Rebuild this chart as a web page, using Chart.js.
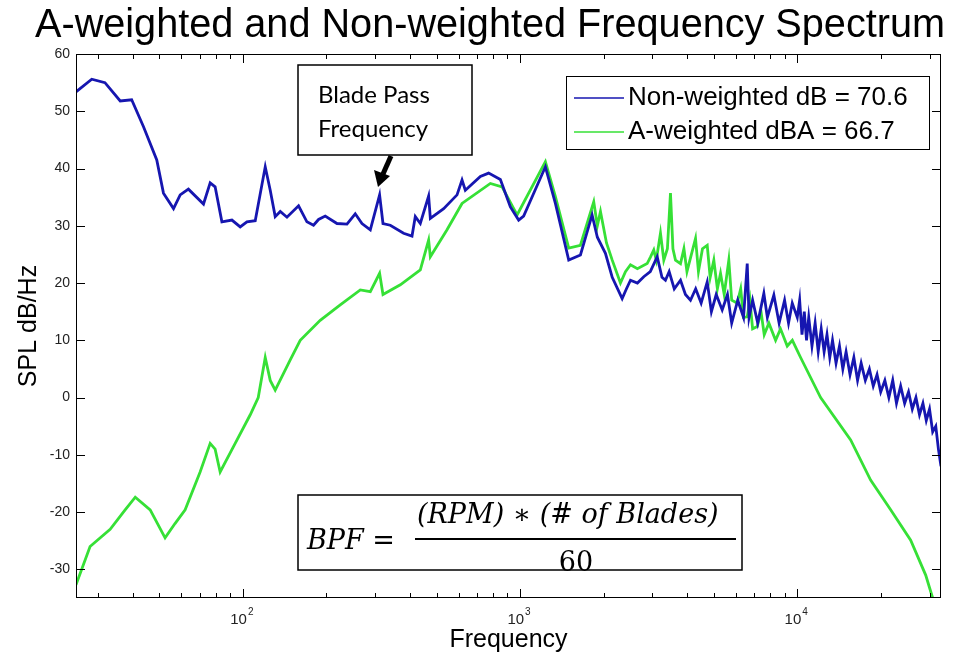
<!DOCTYPE html>
<html>
<head>
<meta charset="utf-8">
<script src="https://cdn.jsdelivr.net/npm/chart.js@4.4.0/dist/chart.umd.min.js"></script>
<style>
  html, body { margin: 0; padding: 0; background: #fff; }
</style>
</head>
<body>
<canvas id="spectrum" width="961" height="659"></canvas>
<script>
// values (Hz / dB)
const blueFreq = [25, 28.5, 31.8, 36.1, 39.7, 43.8, 48.9, 51.7, 56.2, 59.4, 63.6, 72.1, 76.2, 79.4, 84, 91.3, 97.8,
  103.4, 110.8, 120.4, 125.5, 130.8, 136.4, 144.2, 158.8, 170.2, 179.8, 187.5, 198.2, 218.5, 237.4, 254.3, 268.9,
  288.2, 311.3, 320.2, 340.2, 379.9, 407.5, 418.8, 436.6, 467.8, 474.5, 530.1, 592.3, 617.4, 634.6, 719.1, 770.1,
  849, 922.6, 988.3, 1030, 1234, 1341, 1498, 1651,
  1819, 1900, 2032, 2150, 2335, 2420, 2502, 2650, 2794, 2950, 3124, 3250, 3345, 3450, 3600, 3791, 3950, 4119,
  4300, 4500, 4733, 4900, 5100, 5360, 5600, 5800, 6100, 6400, 6599, 6700, 6900, 7200, 7576, 7800, 8232, 8600,
  9000, 9300, 9592,
  10000, 10200, 10400, 10600, 10800, 11000, 11300, 11600, 11900, 12200, 12500, 12800, 13100, 13400, 13800,
  14200, 14600, 15000, 15500, 16000, 16500, 17000, 17600, 18200, 18800, 19400, 20000, 20700, 21400, 22100,
  22800, 23600, 24400, 25200, 26000, 26800, 27600, 28400, 29200, 30000, 30800, 31600, 32300, 33000];
const blueDb = [53.4, 55.6, 55.0, 51.8, 52.0, 47.3, 41.5, 35.7, 33.0, 35.4, 36.4, 33.8, 37.5, 36.8, 30.7, 31.0, 29.8,
  30.7, 30.9, 40.3, 36.2, 31.6, 32.5, 31.5, 33.5, 30.7, 30.1, 31.1, 31.7, 30.4, 30.3, 32.1, 30.4,
  29.3, 35.4, 30.4, 30.1, 28.7, 28.2, 31.6, 30.4, 35.2, 31.3, 33.0, 35.4, 38.0, 36.2, 38.6, 39.2,
  38.1, 33.3, 31.0, 31.7, 40.3, 33.9, 24.0, 24.9,
  31.9, 28, 25.2, 21, 17.3, 19, 20.5, 20, 21.1, 22, 24.6, 21, 20.5, 22, 19, 20.5, 18, 17,
  19, 16.5, 20.2, 15, 18, 15.3, 18, 13, 17, 14, 23.4, 14, 17, 13, 18.2, 14, 17.9, 13,
  17, 13, 16.5,
  14, 17, 11, 15, 10, 14, 9, 13, 8, 12, 8, 11, 7, 10, 6,
  9, 5, 8, 4, 7, 3, 6, 3, 5, 2, 4, 1, 3, 0, 3,
  -1, 2, -1, 1, -2, 0, -3, -1, -4, -2, -6, -5, -9, -12];

const greenFreq = [25, 28.1, 33.2, 37.6, 40.9, 46.3, 52.4, 56.9, 61.9, 70.1, 76.2, 79.4, 82.8, 93.8, 106.3, 113.6,
  120.4, 125.5, 130.8, 148.2, 161, 190.1, 224.5, 265.2, 288.2, 311.3, 320.2, 369.8, 436.6, 467.8, 474.5, 545.1,
  617.4, 781.3, 861, 975.5, 1234, 1341, 1498, 1651,
  1844, 1900, 1950, 2050, 2150, 2302, 2400, 2502, 2650, 2874, 2950, 3036, 3100, 3210, 3300, 3400, 3488, 3560,
  3636, 3791, 3900, 4000, 4150, 4295, 4400, 4550, 4733, 4850, 5000, 5150, 5286, 5450, 5663, 5800, 6073, 6250,
  6400, 6599, 6750, 6900, 7171, 7400, 7600, 7900, 8352, 8700, 9200, 9600,
  10280, 12140, 15580, 18390, 21720, 25650, 29060, 30790, 33000];
const greenDb = [-32.7, -26, -23, -19.6, -17.4, -19.6, -24.5, -22, -19.6, -13, -8, -9, -13, -8, -3, 0,
  7, 3, 1.3, 6.6, 10, 13.5, 16.2, 18.8, 18.5, 21.7, 18, 19.7, 22.3, 27.5, 24.6, 29.3,
  33.9, 37.4, 36.8, 31.9, 41.2, 35.1, 26.1, 26.6,
  34.2, 30, 32.5, 27, 24, 20, 22, 23.2, 22.5, 23.4, 24.5, 25.8, 24, 28.7, 24, 26, 35.7, 26,
  24, 23.4, 26, 22, 25, 27.8, 22, 26, 26.6, 21, 24, 19, 21.7, 18, 24, 17, 16.5, 19,
  14, 14.1, 17, 12, 12.4, 15, 11, 13, 10, 12, 9, 10,
  7, 0, -7.4, -14.4, -19.6, -24.9, -31, -35, -40];

const yTickValues = [-30, -20, -10, 0, 10, 20, 30, 40, 50, 60];
const xTickValues = [30, 40, 50, 60, 70, 80, 90, 100, 200, 300, 400, 500, 600, 700, 800, 900,
  1000, 2000, 3000, 4000, 5000, 6000, 7000, 8000, 9000, 10000, 20000, 30000];
const xDecades = { 100: "2", 1000: "3", 10000: "4" };
const seriesLabels = ["Non-weighted dB = 70.6", "A-weighted dBA = 66.7"];
const seriesColors = ["#1616b0", "#36e036"];

function toPoints(fs, ds) {
  return fs.map((f, i) => ({ x: f, y: ds[i] }));
}

// MATLAB-like box, inward ticks, title, legend and text boxes
const decorations = {
  id: "decorations",
  afterDatasetsDraw(chart) {
    const { ctx, chartArea: a, scales: { x, y } } = chart;
    ctx.save();
    ctx.strokeStyle = "#000";
    ctx.lineWidth = 1;
    ctx.strokeRect(a.left + 0.5, a.top + 0.5, a.width - 1, a.height - 1);
    ctx.beginPath();
    xTickValues.forEach(v => {
      const px = Math.round(x.getPixelForValue(v)) + 0.5;
      const len = xDecades[v] ? 9 : 5;
      ctx.moveTo(px, a.bottom); ctx.lineTo(px, a.bottom - len);
      ctx.moveTo(px, a.top); ctx.lineTo(px, a.top + len);
    });
    yTickValues.forEach(v => {
      const py = Math.round(y.getPixelForValue(v)) + 0.5;
      ctx.moveTo(a.left, py); ctx.lineTo(a.left + 9, py);
      ctx.moveTo(a.right, py); ctx.lineTo(a.right - 9, py);
    });
    ctx.stroke();

    // decade labels 10^n with a raised exponent
    ctx.fillStyle = "#222";
    ctx.textBaseline = "alphabetic";
    Object.keys(xDecades).forEach(k => {
      const px = x.getPixelForValue(Number(k));
      ctx.font = "15px Arial";
      ctx.textAlign = "right";
      ctx.fillText("10", px + 4, 624);
      ctx.font = "10px Arial";
      ctx.textAlign = "left";
      ctx.fillText(xDecades[k], px + 5, 615);
    });
    ctx.textAlign = "left";

    // legend
    ctx.fillStyle = "#fff";
    ctx.fillRect(566, 76, 363, 73);
    ctx.strokeRect(566.5, 76.5, 363, 73);
    ctx.font = "26px Arial, 'Liberation Sans'";
    ctx.textBaseline = "middle";
    seriesLabels.forEach((lab, i) => {
      const ly = 98 + i * 34;
      ctx.strokeStyle = seriesColors[i];
      ctx.lineWidth = 1.5;
      ctx.beginPath(); ctx.moveTo(574, ly); ctx.lineTo(624, ly); ctx.stroke();
      ctx.fillStyle = "#000";
      ctx.fillText(lab, 628, ly);
    });

    // blade pass box
    ctx.strokeStyle = "#000";
    ctx.lineWidth = 1.5;
    ctx.fillStyle = "#fff";
    ctx.fillRect(298, 65, 174, 90);
    ctx.strokeRect(298, 65, 174, 90);
    ctx.fillStyle = "#000";
    ctx.font = "24px Lato, 'DejaVu Sans'";
    ctx.textBaseline = "alphabetic";
    ctx.fillText("Blade Pass", 318, 103);
    ctx.fillText("Frequency", 318, 137);
    // arrow
    ctx.lineWidth = 5;
    ctx.beginPath(); ctx.moveTo(391, 156); ctx.lineTo(383, 174); ctx.stroke();
    ctx.beginPath();
    ctx.moveTo(378, 187); ctx.lineTo(374, 170); ctx.lineTo(390, 176); ctx.closePath();
    ctx.fill();

    // formula box
    ctx.lineWidth = 1.5;
    ctx.fillStyle = "#fff";
    ctx.fillRect(298, 495, 444, 75);
    ctx.strokeRect(298, 495, 444, 75);
    ctx.fillStyle = "#000";
    ctx.font = "italic 27px 'DejaVu Serif'";
    ctx.fillText("BPF =", 307, 549, 93);
    ctx.fillText("(RPM) \u2217 (# of Blades)", 417, 523, 316);
    ctx.font = "27px 'DejaVu Serif'";
    ctx.textAlign = "center";
    ctx.fillText("60", 576, 571);
    ctx.lineWidth = 2;
    ctx.beginPath(); ctx.moveTo(415, 539); ctx.lineTo(736, 539); ctx.stroke();
    ctx.restore();
  },
  afterDraw(chart) {
    const ctx = chart.ctx;
    ctx.save();
    ctx.fillStyle = "#000";
    ctx.font = "40px Arial, 'Liberation Sans'";
    ctx.textAlign = "center";
    ctx.textBaseline = "alphabetic";
    ctx.fillText("A-weighted and Non-weighted Frequency Spectrum", 490, 37, 910);
    ctx.restore();
  }
};

new Chart("spectrum", {
  type: "line",
  data: {
    datasets: [
      { label: seriesLabels[0], data: toPoints(blueFreq, blueDb), borderColor: seriesColors[0] },
      { label: seriesLabels[1], data: toPoints(greenFreq, greenDb), borderColor: seriesColors[1] }
    ]
  },
  options: {
    responsive: false,
    animation: false,
    layout: { padding: { top: 54, right: 20, left: 0, bottom: 0 } },
    elements: {
      point: { radius: 0 },
      line: { borderWidth: 2.8, tension: 0 }
    },
    plugins: { legend: { display: false }, tooltip: { enabled: false } },
    scales: {
      x: {
        type: "logarithmic",
        min: 25,
        max: 33000,
        grid: { display: false, drawTicks: false },
        border: { display: false },
        afterBuildTicks: s => { s.ticks = xTickValues.map(v => ({ value: v })); },
        afterFit: s => { s.height = 61; },
        ticks: { autoSkip: false, maxRotation: 0, padding: 12, callback: () => "" },
        title: { display: true, text: "Frequency", color: "#000", font: { family: "Arial", size: 25 }, padding: { top: 0, bottom: 4 } }
      },
      y: {
        min: -35,
        max: 60,
        grid: { display: false, drawTicks: false },
        border: { display: false },
        afterBuildTicks: s => { s.ticks = yTickValues.map(v => ({ value: v })); },
        afterFit: s => { s.width = 76; },
        ticks: { padding: 6, color: "#222", font: { family: "Arial", size: 14 } },
        title: { display: true, text: "SPL dB/Hz", color: "#000", font: { family: "Arial", size: 25 }, padding: { top: 14, bottom: 0 } }
      }
    }
  },
  plugins: [decorations]
});
</script>
</body>
</html>
